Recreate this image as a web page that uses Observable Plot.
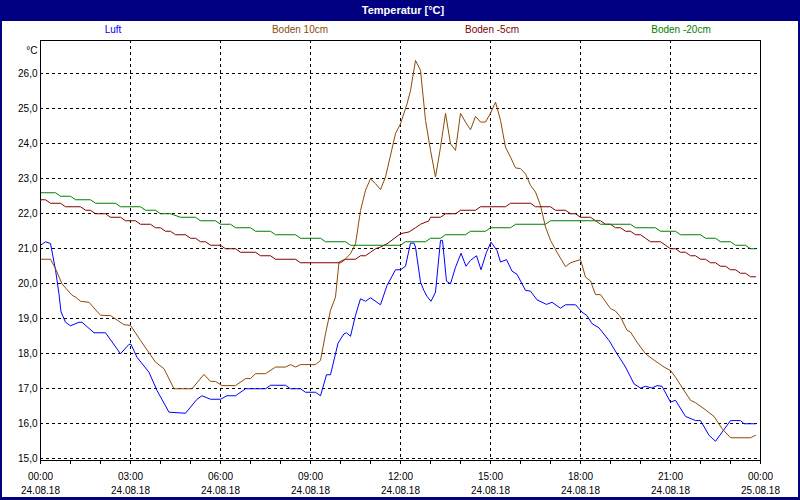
<!DOCTYPE html>
<html><head><meta charset="utf-8">
<script src="https://cdn.jsdelivr.net/npm/d3@7"></script>
<script src="https://cdn.jsdelivr.net/npm/@observablehq/plot@0.6"></script>
<style>
html,body{margin:0;padding:0;background:#000080;}
#wrap{position:relative;width:800px;height:500px;background:#000080;overflow:hidden;font-family:"Liberation Sans",Arial,sans-serif;}
#title{position:absolute;left:0;top:0;width:806px;height:20px;line-height:20px;text-align:center;color:#fff;font-weight:bold;font-size:11px;}
#inner{position:absolute;left:2px;top:21px;width:796px;height:476px;background:#fff;}
.lg{position:absolute;top:24px;font-size:10px;line-height:12px;transform:translateX(-50%);white-space:nowrap;}
#chart{position:absolute;left:0;top:0;}
</style>
</head><body>
<div id="wrap">
  <div id="title">Temperatur [°C]</div>
  <div id="inner"><div id="chart"></div></div>
  <div id="legend"></div>
</div>
<script>
// Series names and colours
const seriesNames = ["Luft", "Boden 10cm", "Boden -5cm", "Boden -20cm"];
const seriesColors = ["#0000ff", "#8c4a08", "#800000", "#008000"];
const legendX = [113, 300, 492, 681];

// [minutes since 24.08.18 00:00, °C]
const luft = [[0,21.1],[10,21.2],[20,21.15],[30,20.4],[37,19.7],[41,19.2],[50,18.9],[60,18.8],[77,18.9],[83,18.9],[107,18.6],[130,18.6],[160,18.0],[177,18.27],[181,18.27],[193,17.9],[217,17.47],[233,16.95],[257,16.33],[290,16.3],[313,16.7],[323,16.8],[340,16.7],[360,16.7],[373,16.8],[390,16.8],[410,17.0],[450,17.0],[460,17.1],[490,17.1],[500,17.0],[520,17.0],[530,16.9],[550,16.9],[560,16.8],[572,17.4],[580,17.4],[590,18.0],[595,18.3],[607,18.57],[612,18.6],[620,18.5],[630,19.1],[640,19.57],[650,19.5],[660,19.6],[680,19.4],[693,19.95],[710,20.4],[720,20.4],[730,20.5],[740,21.16],[747,21.16],[750,21.05],[760,20.05],[767,19.8],[773,19.64],[781,19.5],[790,19.76],[800,21.24],[804,21.24],[812,20.07],[820,20.0],[830,20.47],[841,20.87],[851,20.5],[860,20.67],[872,20.8],[881,20.4],[892,20.9],[901,21.19],[913,20.95],[920,20.62],[932,20.69],[943,20.36],[953,20.27],[970,19.81],[980,19.79],[993,19.54],[1012,19.41],[1023,19.47],[1040,19.3],[1050,19.4],[1070,19.4],[1083,19.19],[1093,19.09],[1103,18.86],[1117,18.74],[1137,18.38],[1153,18.0],[1170,17.62],[1187,17.14],[1200,17.02],[1210,17.07],[1223,17.02],[1233,17.09],[1243,17.07],[1260,16.62],[1270,16.67],[1290,16.21],[1310,16.09],[1320,16.09],[1337,15.67],[1350,15.5],[1380,16.09],[1400,16.09],[1407,16.0],[1430,16.0]];

const boden10 = [[0,20.7],[20,20.7],[30,20.43],[43,20.0],[63,19.67],[70,19.62],[80,19.5],[97,19.47],[120,19.1],[140,19.09],[167,18.83],[180,18.81],[200,18.38],[230,17.76],[247,17.57],[267,17.0],[303,17.0],[327,17.41],[340,17.21],[350,17.21],[363,17.09],[390,17.09],[410,17.29],[420,17.29],[430,17.43],[450,17.43],[470,17.62],[490,17.62],[500,17.69],[510,17.62],[520,17.69],[550,17.69],[560,17.81],[570,18.57],[580,19.24],[590,19.62],[597,20.62],[610,20.71],[620,20.86],[630,21.14],[640,22.09],[650,22.67],[660,23.0],[670,22.86],[680,22.69],[690,23.05],[710,24.29],[720,24.57],[733,25.14],[740,25.52],[750,26.38],[760,26.1],[770,24.67],[780,23.81],[790,23.05],[800,23.9],[810,24.87],[820,24.0],[830,23.81],[840,24.87],[850,24.62],[860,24.4],[870,24.78],[880,24.62],[890,24.62],[900,24.87],[910,25.19],[920,24.67],[930,23.9],[940,23.62],[950,23.31],[960,23.29],[970,23.14],[980,22.81],[990,22.62],[1000,22.24],[1010,21.62],[1020,21.24],[1033,20.9],[1050,20.49],[1060,20.6],[1080,20.69],[1090,20.19],[1100,20.08],[1110,19.69],[1120,19.69],[1140,19.29],[1150,19.22],[1160,19.05],[1173,18.67],[1180,18.62],[1193,18.33],[1210,18.0],[1223,17.86],[1247,17.62],[1260,17.52],[1270,17.33],[1287,16.95],[1300,16.67],[1310,16.6],[1327,16.43],[1347,16.21],[1363,15.86],[1380,15.6],[1420,15.6],[1430,15.67]];

const boden5 = [[0,22.4],[10,22.4],[20,22.3],[40,22.3],[50,22.2],[80,22.2],[90,22.1],[100,22.1],[110,22.0],[130,22.0],[140,21.9],[160,21.9],[170,21.8],[190,21.8],[200,21.7],[220,21.7],[230,21.6],[240,21.6],[250,21.5],[260,21.5],[270,21.4],[290,21.4],[300,21.3],[310,21.3],[320,21.2],[330,21.2],[340,21.1],[360,21.1],[370,21.0],[390,21.0],[400,20.9],[430,20.9],[440,20.8],[460,20.8],[470,20.7],[510,20.7],[520,20.6],[600,20.6],[610,20.7],[630,20.7],[640,20.8],[650,20.8],[660,20.9],[670,21.0],[680,21.05],[693,21.14],[707,21.29],[720,21.43],[737,21.48],[750,21.6],[760,21.7],[777,21.8],[780,21.9],[800,21.9],[810,22.0],[830,22.0],[840,22.1],[870,22.1],[880,22.2],[930,22.2],[940,22.3],[980,22.3],[990,22.2],[1020,22.2],[1030,22.1],[1050,22.1],[1060,22.0],[1070,22.0],[1080,21.9],[1100,21.9],[1110,21.8],[1120,21.8],[1130,21.7],[1140,21.7],[1150,21.6],[1160,21.6],[1170,21.5],[1180,21.5],[1190,21.4],[1200,21.4],[1210,21.3],[1220,21.2],[1240,21.2],[1250,21.1],[1260,21.0],[1270,21.0],[1280,20.9],[1290,20.9],[1300,20.8],[1310,20.8],[1320,20.7],[1330,20.7],[1340,20.6],[1350,20.6],[1360,20.5],[1370,20.5],[1380,20.4],[1390,20.4],[1400,20.3],[1410,20.3],[1420,20.2],[1430,20.2]];

const boden20 = [[0,22.6],[30,22.6],[40,22.5],[60,22.5],[70,22.4],[100,22.4],[110,22.3],[150,22.3],[160,22.2],[200,22.2],[210,22.1],[230,22.1],[240,22.0],[260,22.0],[280,21.9],[310,21.9],[320,21.8],[350,21.8],[360,21.7],[380,21.7],[390,21.6],[420,21.6],[430,21.5],[460,21.5],[470,21.4],[510,21.4],[520,21.3],[560,21.3],[570,21.2],[610,21.2],[620,21.1],[720,21.1],[730,21.2],[770,21.2],[780,21.3],[800,21.3],[810,21.4],[850,21.4],[860,21.5],[890,21.5],[900,21.6],[940,21.6],[950,21.7],[1010,21.7],[1020,21.8],[1110,21.8],[1120,21.7],[1180,21.7],[1190,21.6],[1230,21.6],[1240,21.5],[1270,21.5],[1280,21.4],[1320,21.4],[1330,21.3],[1350,21.3],[1360,21.2],[1380,21.2],[1390,21.1],[1410,21.1],[1420,21.0],[1430,21.0]];

// Axis ticks and labels
const xTicks = [0,180,360,540,720,900,1080,1260,1440];
const xTimeLabels = ["00:00","03:00","06:00","09:00","12:00","15:00","18:00","21:00","00:00"];
const xDateLabels = ["24.08.18","24.08.18","24.08.18","24.08.18","24.08.18","24.08.18","24.08.18","24.08.18","25.08.18"];
const xMinorTicks = [0,60,120,180,240,300,360,420,480,540,600,660,720,780,840,900,960,1020,1080,1140,1200,1260,1320,1380,1440];
const yTicks = [15,16,17,18,19,20,21,22,23,24,25,26];
const yUnit = "°C";

const allSeries = [luft, boden10, boden5, boden20];
const rows = allSeries.flatMap((s, k) => s.map(([t, v]) => ({t, v, s: seriesNames[k]})));

const labelOf = new Map(xTicks.map((t, i) => [t, xTimeLabels[i] + "\n" + xDateLabels[i]]));

const chart = Plot.plot({
  width: 796, height: 476,
  marginLeft: 38, marginRight: 38, marginTop: 19, marginBottom: 37,
  style: {fontFamily: "'Liberation Sans', Arial, sans-serif", fontSize: "10px", color: "#000", background: "transparent"},
  x: {domain: [0, 1440], axis: null, label: null},
  y: {domain: [14.95, 26.95], axis: null, label: null},
  color: {domain: seriesNames, range: seriesColors},
  marks: [
    Plot.gridY(yTicks, {stroke: "#000", strokeOpacity: 1, strokeDasharray: "3,3", shapeRendering: "crispEdges"}),
    Plot.gridX(xTicks, {stroke: "#000", strokeOpacity: 1, strokeDasharray: "3,3", shapeRendering: "crispEdges"}),
    Plot.axisY(yTicks, {label: null, tickSize: 0, tickPadding: 3, tickFormat: d => d.toFixed(1).replace(".", ","), fontSize: 10}),
    Plot.axisX(xMinorTicks, {label: null, tickSize: 4, tickFormat: () => "", shapeRendering: "crispEdges"}),
    Plot.axisX(xTicks, {label: null, tickSize: 0, tickPadding: 9, tickFormat: d => labelOf.get(d), lineHeight: 1.45, fontSize: 10}),
    Plot.text([yUnit], {frameAnchor: "top-left", dx: -3, dy: 6, textAnchor: "end", text: d => d, fontSize: 10}),
    Plot.line(rows, {x: "t", y: "v", z: "s", stroke: "s", strokeWidth: 1}),
    Plot.frame({stroke: "#000", shapeRendering: "crispEdges"})
  ]
});
document.getElementById("chart").appendChild(chart);

const lg = document.getElementById("legend");
seriesNames.forEach((n, i) => {
  const d = document.createElement("div");
  d.className = "lg";
  d.style.left = legendX[i] + "px";
  d.style.color = seriesColors[i];
  d.textContent = n;
  lg.appendChild(d);
});
</script>
</body></html>
